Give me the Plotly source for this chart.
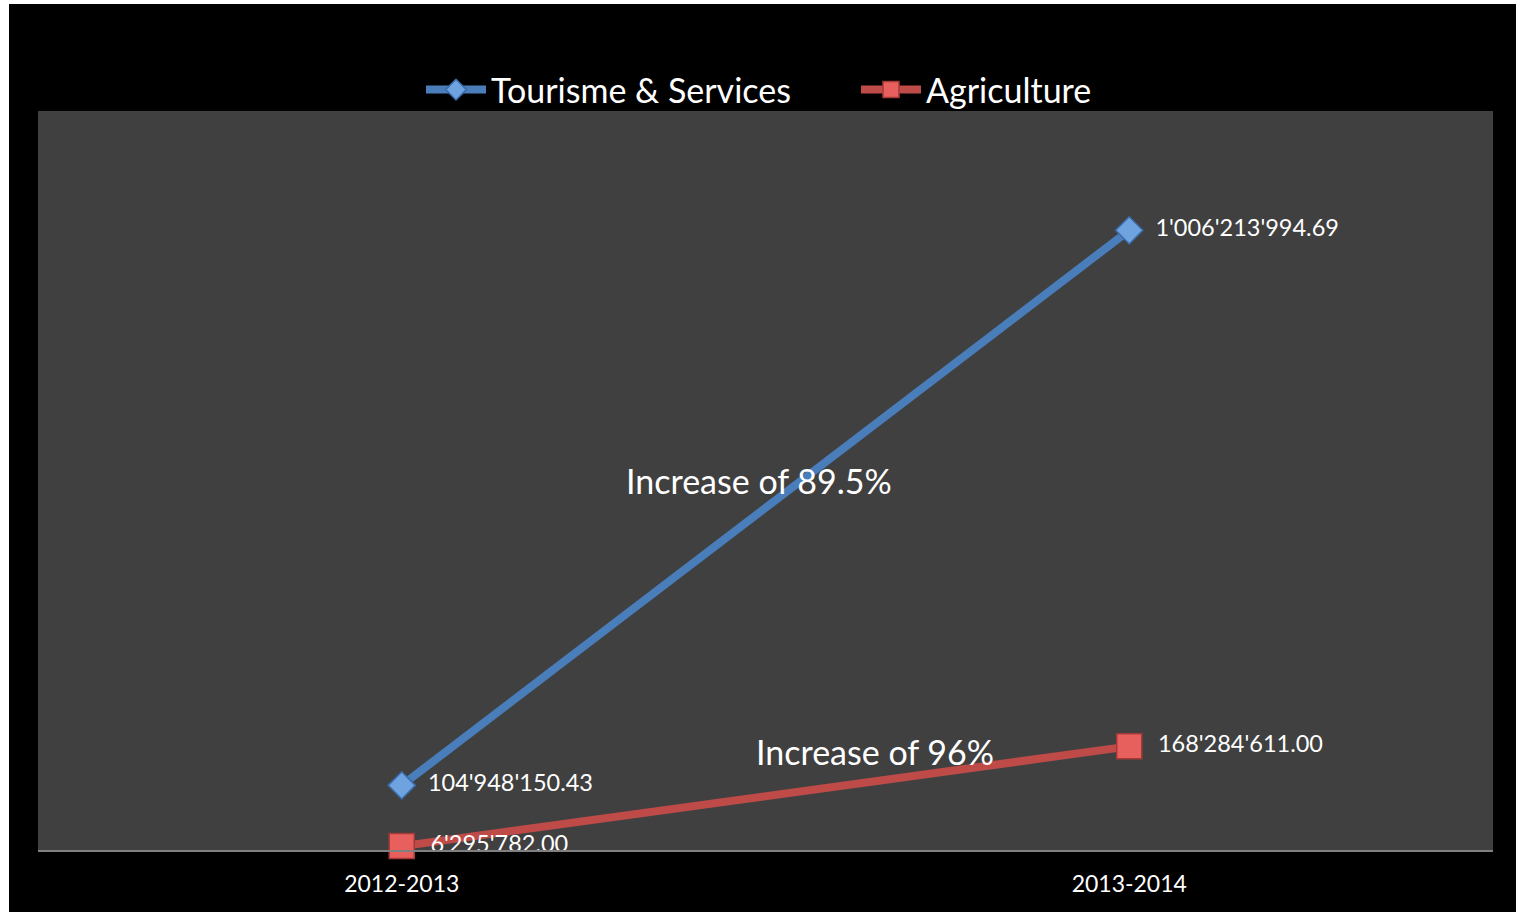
import plotly.graph_objects as go

categories = ["2012-2013", "2013-2014"]
tourism_values = [104948150.43, 1006213994.69]
agri_values = [6295782.00, 168284611.00]
tourism_labels = ["104'948'150.43", "1'006'213'994.69"]
agri_labels = ["6'295'782.00", "168'284'611.00"]
series_names = ["Tourisme & Services", "Agriculture"]
annotation_texts = ["Increase of 89.5%", "Increase of 96%"]

W, H = 1516, 912
L, R, T, B = 38, 23, 111, 62
pw, ph = W - L - R, H - T - B

def px_x(p):
    return (p - L) / pw

def px_y(p):
    return (H - B - p) / ph

FONT = "Lato, Calibri, sans-serif"

fig = go.Figure()
fig.add_trace(go.Scatter(
    x=categories, y=tourism_values, name=series_names[0],
    mode="lines+markers+text", text=["  " + t for t in tourism_labels],
    textposition="middle right", cliponaxis=False,
    textfont=dict(color="white", size=23.5, family=FONT),
    line=dict(color="#4A7EBB", width=8),
    marker=dict(symbol="diamond", size=21, color="#6FA3E0",
                line=dict(color="#3A6AA8", width=1.5)),
))
fig.add_trace(go.Scatter(
    x=categories, y=agri_values, name=series_names[1],
    mode="lines+markers+text", text=["  " + t for t in agri_labels],
    textposition="middle right", cliponaxis=False,
    textfont=dict(color="white", size=23.5, family=FONT),
    line=dict(color="#BE4B48", width=8),
    marker=dict(symbol="square", size=25, color="#E8605D",
                line=dict(color="#A33A37", width=1.5)),
))

fig.add_annotation(x=0.5, y=(tourism_values[0] + tourism_values[1]) / 2, xref="x", yref="y",
                   text=annotation_texts[0], showarrow=False, xshift=-7, yshift=27,
                   font=dict(color="white", size=34, family=FONT))
fig.add_annotation(x=0.65, y=(agri_values[0] + agri_values[1]) / 2 + 50e6, xref="x", yref="y",
                   text=annotation_texts[1], showarrow=False, yshift=14,
                   font=dict(color="white", size=34, family=FONT))

# white border strips at left and top
fig.add_shape(type="rect", xref="paper", yref="paper",
              x0=px_x(0), x1=px_x(9), y0=px_y(H), y1=px_y(0),
              fillcolor="white", line=dict(width=0))
fig.add_shape(type="rect", xref="paper", yref="paper",
              x0=px_x(0), x1=px_x(W), y0=px_y(4), y1=px_y(0),
              fillcolor="white", line=dict(width=0))

fig.update_layout(
    width=W, height=H,
    margin=dict(l=L, r=R, t=T, b=B),
    paper_bgcolor="black", plot_bgcolor="#404040",
    font=dict(family=FONT, color="white"),
    showlegend=True,
    legend=dict(orientation="h", x=px_x(421), xanchor="left", y=px_y(90), yanchor="middle",
                font=dict(size=34, color="white", family=FONT),
                bgcolor="rgba(0,0,0,0)", itemwidth=60, entrywidth=360,
                entrywidthmode="pixels"),
    xaxis=dict(type="category", range=[-0.5, 1.5], showgrid=False, zeroline=False,
               showline=True, linecolor="#808080", linewidth=2, ticks="",
               tickfont=dict(size=23, color="white", family=FONT), ticklabelstandoff=12),
    yaxis=dict(range=[0, 1.2e9], showgrid=False, zeroline=False, showticklabels=False,
               showline=False),
)

fig.write_html("out.html")
